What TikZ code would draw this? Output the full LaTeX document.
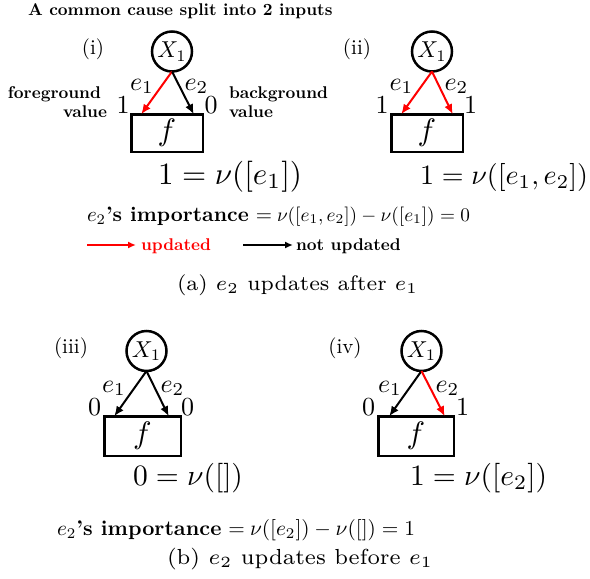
\RequirePackage{fix-cm}
\documentclass[tikz,border=0pt]{standalone}
\usetikzlibrary{arrows.meta}
\newcommand\sbx[2]{\scalebox{#1}{#2}}
\newcommand\bt[1]{\scalebox{1.7}{\bfseries #1}}
\tikzset{
  every node/.style={inner sep=0pt, outer sep=0pt},
  circ/.style={circle, draw, line width=2.5pt, minimum size=40pt},
  fnode/.style={draw, line width=2.5pt, minimum width=71.5pt, minimum height=37.5pt},
  edge/.style={line width=2pt, -{Latex[length=10pt,width=8.5pt]}},
  upd/.style={edge, red},
  legarr/.style={line width=2.2pt, -{Latex[length=8pt,width=7pt]}},
  lab/.style={anchor=base},
  bw/.style={anchor=base west},
}
\newcommand\Xone{\sbx{2.3}{$X_1$}}
\newcommand\fsym{\sbx{3.1}{$f$}}
\newcommand\lb[1]{\sbx{2.6}{$#1$}}
\begin{document}
\begin{tikzpicture}[x=1pt,y=-1pt]
\useasboundingbox (0,0) rectangle (590,579);
% title
\node[bw] (title) at (28,15) {\bt{A common cause split into 2 inputs}};
% panel (i)
\node (ti) at (93,49) {\sbx{2.1}{(i)}};
\node[circ] (c1) at (172,51.5) {\Xone};
\node[fnode] (f1) at (167,133) {\fsym};
\draw[upd] (c1.south) -- ([xshift=10pt]f1.north west);
\draw[edge] (c1.south) -- ([xshift=-9pt]f1.north east);
\node[lab] (e1a) at (142,90) {\lb{e_1}};
\node[lab] (e2a) at (196.5,90) {\lb{e_2}};
\node[lab] (n1a) at (123,113) {\lb{1}};
\node[lab] (n2a) at (211,113) {\lb{0}};
\node[bw] (fg) at (8,98) {\bt{foreground}};
\node[anchor=base east] (fv) at (107,117) {\bt{value}};
\node[bw] (bg) at (229,98) {\bt{background}};
\node[bw] (bv) at (229,117) {\bt{value}};
\node[bw] (v1) at (158,184) {\resizebox{144pt}{!}{$1=\nu([e_1])$}};
% panel (ii)
\node (tii) at (357,49) {\sbx{2.1}{(ii)}};
\node[circ] (c2) at (432,51.5) {\Xone};
\node[fnode] (f2) at (427,133) {\fsym};
\draw[upd] (c2.south) -- ([xshift=10pt]f2.north west);
\draw[upd] (c2.south) -- ([xshift=-10pt]f2.north east);
\node[lab] (e1b) at (401.5,90) {\lb{e_1}};
\node[lab] (e2b) at (456.5,90) {\lb{e_2}};
\node[lab] (n1b) at (382,113) {\lb{1}};
\node[lab] (n2b) at (470.5,113) {\lb{1}};
\node[bw] (v2) at (420,184) {\resizebox{168pt}{!}{$1=\nu([e_1,e_2])$}};
% importance (a)
\node[bw] (impa) at (87,221) {\resizebox{185pt}{!}{$e_2$\textbf{'s importance} $=$}};
\node[bw] (impam) at (277,221) {\resizebox{193pt}{!}{$\nu([e_1,e_2])-\nu([e_1])=0$}};
% legend
\coordinate (lr) at (87,245);
\node[bw, text=red] (lu) at (141,250) {\bt{updated}};
\draw[legarr, red] (lr) -- ([xshift=-5pt]lr -| lu.west);
\coordinate (lb) at (243,245);
\node[bw] (ln) at (296,250) {\bt{not updated}};
\draw[legarr] (lb) -- ([xshift=-3pt]lb -| ln.west);
% caption (a)
\node[bw] (capa) at (177,290) {\resizebox{241pt}{!}{\fontsize{7}{8.4}\selectfont (a) $e_2$ updates after $e_1$}};
% panel (iii)
\node (tiii) at (71,348) {\sbx{2.1}{(iii)}};
\node[circ] (c3) at (146.5,351) {\Xone};
\node[fnode, minimum width=76.5pt, minimum height=39.5pt] (f3) at (142.5,436) {\fsym};
\draw[edge] (c3.south) -- ([xshift=10pt]f3.north west);
\draw[edge] (c3.south) -- ([xshift=-12pt]f3.north east);
\node[lab] (e1c) at (114,392) {\lb{e_1}};
\node[lab] (e2c) at (172.5,392) {\lb{e_2}};
\node[lab] (n1c) at (94.5,415) {\lb{0}};
\node[lab] (n2c) at (187.5,415) {\lb{0}};
\node[bw] (v3) at (133,485) {\resizebox{110pt}{!}{$0=\nu([])$}};
% panel (iv)
\node (tiv) at (345,348) {\sbx{2.1}{(iv)}};
\node[circ] (c4) at (421.5,351) {\Xone};
\node[fnode, minimum width=75.5pt, minimum height=39.5pt] (f4) at (416,436) {\fsym};
\draw[edge] (c4.south) -- ([xshift=11pt]f4.north west);
\draw[upd] (c4.south) -- ([xshift=-9pt]f4.north east);
\node[lab] (e1d) at (390,392) {\lb{e_1}};
\node[lab] (e2d) at (447.5,392) {\lb{e_2}};
\node[lab] (n1d) at (368.5,415) {\lb{0}};
\node[lab] (n2d) at (462.5,415) {\lb{1}};
\node[bw] (v4) at (410,485) {\resizebox{137pt}{!}{$1=\nu([e_2])$}};
% importance (b)
\node[bw] (impb) at (57,535) {\resizebox{188pt}{!}{$e_2$\textbf{'s importance} $=$}};
\node[bw] (impbm) at (250,535) {\resizebox{165pt}{!}{$\nu([e_2])-\nu([])=1$}};
% caption (b)
\node[bw] (capb) at (167,564) {\resizebox{266pt}{!}{\fontsize{7}{8.4}\selectfont (b) $e_2$ updates before $e_1$}};
\end{tikzpicture}
\end{document}
